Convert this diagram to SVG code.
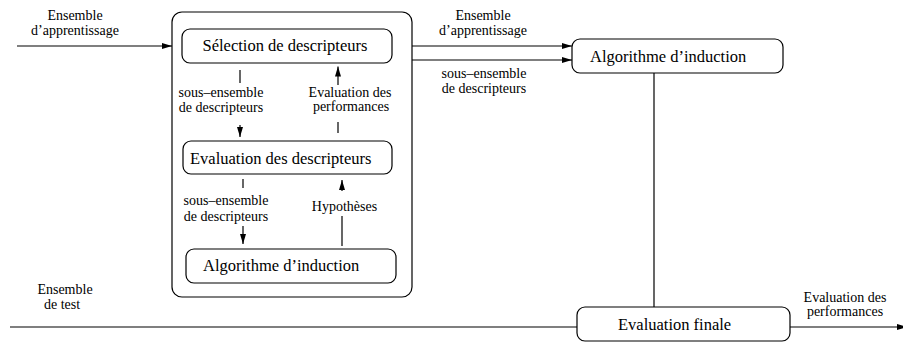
<svg xmlns="http://www.w3.org/2000/svg" width="903" height="343" viewBox="0 0 903 343">
<style>
.box{fill:none;stroke:#000;stroke-width:1.2}
.ln{fill:none;stroke:#000;stroke-width:1.2}
.lab{font-family:'Liberation Serif','Times New Roman',Tinos,'Nimbus Roman','DejaVu Serif',serif;font-size:16.5px;fill:#000}
.sm{font-family:'Liberation Serif','Times New Roman',Tinos,'Nimbus Roman','DejaVu Serif',serif;font-size:14px;fill:#000;text-anchor:middle}
</style>
<defs>
<marker id="ah" viewBox="0 0 10 6" refX="10" refY="3" markerWidth="10" markerHeight="6" markerUnits="userSpaceOnUse" orient="auto">
<path d="M0,0 L10,3 L0,6 Z" fill="#000"/>
</marker>
</defs>
<g id="outer"><rect class="box" x="172" y="12" width="240" height="285" rx="10"/></g>
<g id="selection"><rect class="box" x="182" y="29" width="210" height="34" rx="8"/><text class="lab" x="202.5" y="50.5">Sélection de descripteurs</text></g>
<g id="evaluation"><rect class="box" x="183" y="141" width="209" height="33" rx="8"/><text class="lab" x="190" y="164">Evaluation des descripteurs</text></g>
<g id="algo-inner"><rect class="box" x="186" y="249" width="210" height="34" rx="8"/><text class="lab" x="203" y="271">Algorithme d’induction</text></g>
<g id="algo-right"><rect class="box" x="572" y="39" width="211" height="34" rx="8"/><text class="lab" x="590" y="61.5">Algorithme d’induction</text></g>
<g id="eval-finale"><rect class="box" x="577" y="307" width="213" height="34" rx="8"/><text class="lab" x="618" y="329.5">Evaluation finale</text></g>
<g id="connectors">
<line class="ln" x1="17" y1="46" x2="172" y2="46" marker-end="url(#ah)"/>
<line class="ln" x1="412" y1="46" x2="572" y2="46" marker-end="url(#ah)"/>
<line class="ln" x1="412" y1="60" x2="572" y2="60" marker-end="url(#ah)"/>
<line class="ln" x1="240" y1="70" x2="240" y2="83"/>
<line class="ln" x1="240" y1="125" x2="240" y2="137" marker-end="url(#ah)"/>
<line class="ln" x1="338" y1="133" x2="338" y2="122"/>
<line class="ln" x1="338" y1="85" x2="338" y2="66.5" marker-end="url(#ah)"/>
<line class="ln" x1="243" y1="179" x2="243" y2="188"/>
<line class="ln" x1="243" y1="226" x2="243" y2="244" marker-end="url(#ah)"/>
<line class="ln" x1="342" y1="246" x2="342" y2="216"/>
<line class="ln" x1="342" y1="191" x2="342" y2="180" marker-end="url(#ah)"/>
<line class="ln" x1="654" y1="73" x2="654" y2="307"/>
<line class="ln" x1="10" y1="327" x2="577" y2="327"/>
<line class="ln" x1="790" y1="327" x2="907" y2="327" marker-end="url(#ah)"/>
</g>
<g id="labels">
<text class="sm" x="75" y="20">Ensemble</text>
<text class="sm" x="75" y="35">d’apprentissage</text>
<text class="sm" x="483" y="19.5">Ensemble</text>
<text class="sm" x="483" y="34.5">d’apprentissage</text>
<text class="sm" x="484" y="78">sous–ensemble</text>
<text class="sm" x="484" y="93">de descripteurs</text>
<text class="sm" x="221" y="97">sous–ensemble</text>
<text class="sm" x="221" y="111.5">de descripteurs</text>
<text class="sm" x="350" y="97">Evaluation des</text>
<text class="sm" x="351" y="110.5">performances</text>
<text class="sm" x="226" y="205">sous–ensemble</text>
<text class="sm" x="226" y="221">de descripteurs</text>
<text class="sm" x="344.5" y="211">Hypothèses</text>
<text class="sm" x="65" y="294">Ensemble</text>
<text class="sm" x="62" y="309">de test</text>
<text class="sm" x="845" y="301.5">Evaluation des</text>
<text class="sm" x="845" y="316">performances</text>
</g>
</svg>
